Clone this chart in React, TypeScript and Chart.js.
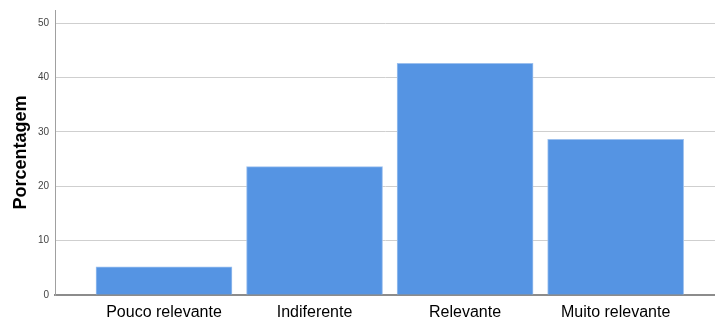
import React, { useEffect, useRef } from "react";
import { Chart, registerables } from "chart.js";

Chart.register(...registerables);

const categories = ["Pouco relevante", "Indiferente", "Relevante", "Muito relevante"];
const percentages = [5.2, 23.6, 42.6, 28.6];
const yTicks = [0, 10, 20, 30, 40, 50];

export default function App() {
  const ref = useRef<HTMLCanvasElement>(null);
  useEffect(() => {
    document.body.style.margin = "0";
    const chart = new Chart(ref.current!, {
      type: "bar",
      data: {
        datasets: [
          {
            data: percentages.map((v, i) => ({ x: i, y: v })),
            backgroundColor: "#5594e3",
            borderColor: "#9cc0ee",
            borderWidth: 1,
            barThickness: 136,
          },
        ],
      },
      options: {
        animation: false,
        responsive: false,
        maintainAspectRatio: false,
        layout: { padding: { top: 6, right: 0, left: 0, bottom: 0 } },
        plugins: { legend: { display: false }, tooltip: { enabled: false } },
        scales: {
          x: {
            type: "linear",
            min: -0.724,
            max: 3.66,
            offset: false,
            grid: { display: false },
            border: { display: true, color: "#8c8c8c", width: 2 },
            afterBuildTicks: (s: any) => {
              s.ticks = categories.map((_, i) => ({ value: i }));
            },
            afterFit: (s: any) => {
              s.height = 23;
            },
            ticks: {
              autoSkip: false,
              maxRotation: 0,
              padding: 0,
              color: "#000",
              font: { family: "Arial, 'Liberation Sans'", size: 16 },
              callback: (v: any) => categories[v] ?? "",
            },
          },
          y: {
            min: 0,
            max: 52.4,
            afterBuildTicks: (s: any) => {
              s.ticks = yTicks.map((v) => ({ value: v }));
            },
            afterFit: (s: any) => {
              s.width = 55;
            },
            grid: { color: "#cfcfcf", lineWidth: 1, drawTicks: false },
            border: { display: true, color: "#a0a0a0", width: 1 },
            ticks: {
              padding: 6,
              color: "#444",
              font: { family: "Arial, 'Liberation Sans'", size: 10, lineHeight: 0.8 },
            },
            title: {
              display: true,
              text: "Porcentagem",
              color: "#000",
              padding: { top: 10, bottom: 0 },
              font: { family: "Arial, 'Liberation Sans'", size: 18, weight: "bold" },
            },
          },
        },
      },
    } as any);
    return () => chart.destroy();
  }, []);
  return (
    <div style={{ width: 715, height: 318 }}>
      <canvas ref={ref} width={715} height={318} style={{ width: 715, height: 318 }} />
    </div>
  );
}
